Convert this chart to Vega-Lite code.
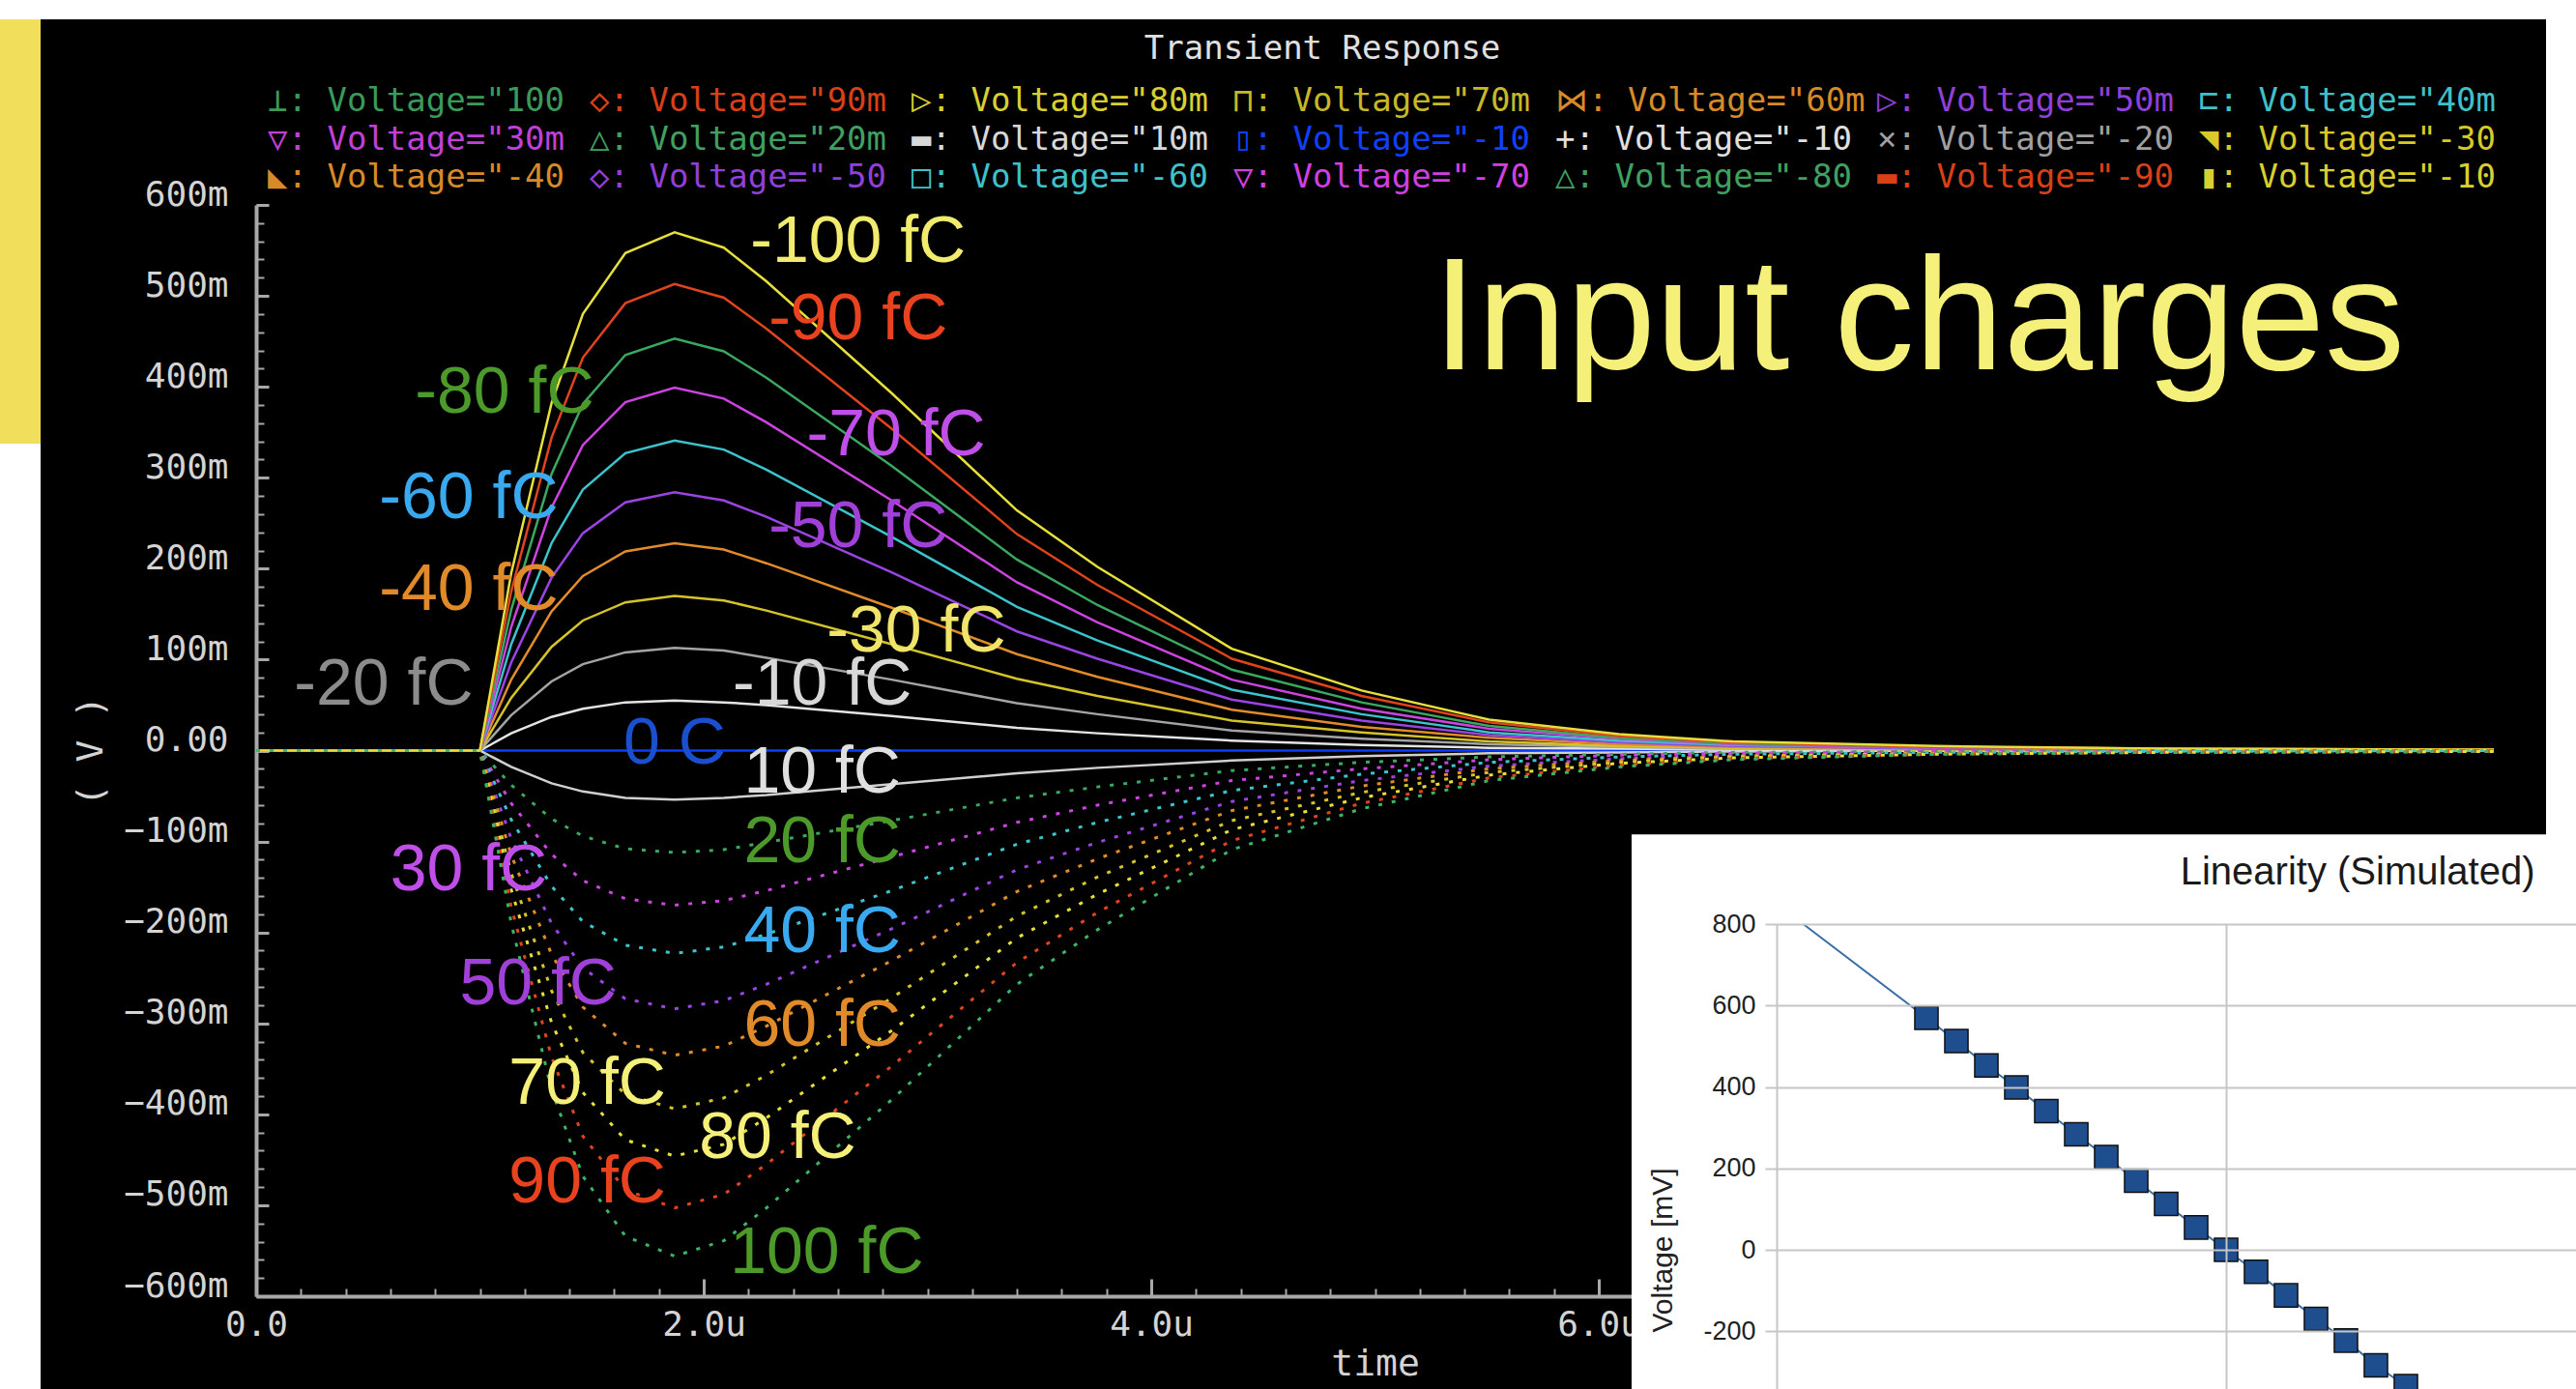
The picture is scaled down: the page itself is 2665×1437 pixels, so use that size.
{
  "$schema": "https://vega.github.io/schema/vega-lite/v6.json",
  "background": "white",
  "padding": {"left": 0, "top": 20, "right": 0, "bottom": 0},
  "spacing": 0,
  "bounds": "flush",
  "config": {"view": {"stroke": null}},
  "datasets": {
    "wave": [
      {"t":0,"n100":0,"n90":0,"n80":0,"n70":0,"n60":0,"n50":0,"n40":0,"n30":0,"n20":0,"n10":0,"z0":0,"p10":0,"p20":0,"p30":0,"p40":0,"p50":0,"p60":0,"p70":0,"p80":0,"p90":0,"p100":0},
      {"t":1.0,"n100":0,"n90":0,"n80":0,"n70":0,"n60":0,"n50":0,"n40":0,"n30":0,"n20":0,"n10":0,"z0":0,"p10":0,"p20":0,"p30":0,"p40":0,"p50":0,"p60":0,"p70":0,"p80":0,"p90":0,"p100":0},
      {"t":1.14,"n100":0.195,"n90":0.175,"n80":0.155,"n70":0.136,"n60":0.117,"n50":0.097,"n40":0.078,"n30":0.058,"n20":0.039,"n10":0.019,"z0":0,"p10":-0.018,"p20":-0.038,"p30":-0.058,"p40":-0.076,"p50":-0.097,"p60":-0.115,"p70":-0.135,"p80":-0.153,"p90":-0.172,"p100":-0.19},
      {"t":1.32,"n100":0.382,"n90":0.344,"n80":0.304,"n70":0.267,"n60":0.228,"n50":0.19,"n40":0.153,"n30":0.114,"n20":0.076,"n10":0.037,"z0":0,"p10":-0.036,"p20":-0.075,"p30":-0.114,"p40":-0.149,"p50":-0.19,"p60":-0.224,"p70":-0.264,"p80":-0.299,"p90":-0.337,"p100":-0.373},
      {"t":1.46,"n100":0.48,"n90":0.432,"n80":0.381,"n70":0.336,"n60":0.287,"n50":0.239,"n40":0.192,"n30":0.143,"n20":0.095,"n10":0.046,"z0":0,"p10":-0.045,"p20":-0.094,"p30":-0.143,"p40":-0.188,"p50":-0.239,"p60":-0.282,"p70":-0.332,"p80":-0.376,"p90":-0.424,"p100":-0.468},
      {"t":1.65,"n100":0.547,"n90":0.492,"n80":0.435,"n70":0.383,"n60":0.327,"n50":0.273,"n40":0.219,"n30":0.163,"n20":0.108,"n10":0.053,"z0":0,"p10":-0.052,"p20":-0.108,"p30":-0.163,"p40":-0.214,"p50":-0.273,"p60":-0.322,"p70":-0.378,"p80":-0.428,"p90":-0.483,"p100":-0.534},
      {"t":1.87,"n100":0.57,"n90":0.513,"n80":0.453,"n70":0.399,"n60":0.341,"n50":0.284,"n40":0.228,"n30":0.17,"n20":0.113,"n10":0.055,"z0":0,"p10":-0.054,"p20":-0.112,"p30":-0.17,"p40":-0.223,"p50":-0.284,"p60":-0.335,"p70":-0.394,"p80":-0.446,"p90":-0.503,"p100":-0.556},
      {"t":2.09,"n100":0.553,"n90":0.498,"n80":0.439,"n70":0.387,"n60":0.331,"n50":0.275,"n40":0.221,"n30":0.165,"n20":0.11,"n10":0.053,"z0":0,"p10":-0.052,"p20":-0.109,"p30":-0.165,"p40":-0.216,"p50":-0.275,"p60":-0.325,"p70":-0.382,"p80":-0.433,"p90":-0.488,"p100":-0.539},
      {"t":2.28,"n100":0.516,"n90":0.464,"n80":0.41,"n70":0.361,"n60":0.309,"n50":0.257,"n40":0.206,"n30":0.154,"n20":0.102,"n10":0.05,"z0":0,"p10":-0.049,"p20":-0.101,"p30":-0.154,"p40":-0.202,"p50":-0.257,"p60":-0.303,"p70":-0.357,"p80":-0.404,"p90":-0.455,"p100":-0.503},
      {"t":2.84,"n100":0.393,"n90":0.354,"n80":0.313,"n70":0.275,"n60":0.235,"n50":0.196,"n40":0.157,"n30":0.117,"n20":0.078,"n10":0.038,"z0":0,"p10":-0.037,"p20":-0.077,"p30":-0.117,"p40":-0.154,"p50":-0.196,"p60":-0.231,"p70":-0.272,"p80":-0.308,"p90":-0.347,"p100":-0.384},
      {"t":3.4,"n100":0.264,"n90":0.238,"n80":0.21,"n70":0.185,"n60":0.158,"n50":0.131,"n40":0.106,"n30":0.079,"n20":0.052,"n10":0.025,"z0":0,"p10":-0.025,"p20":-0.052,"p30":-0.079,"p40":-0.103,"p50":-0.131,"p60":-0.155,"p70":-0.182,"p80":-0.206,"p90":-0.233,"p100":-0.257},
      {"t":3.76,"n100":0.202,"n90":0.182,"n80":0.16,"n70":0.141,"n60":0.121,"n50":0.101,"n40":0.081,"n30":0.06,"n20":0.04,"n10":0.019,"z0":0,"p10":-0.019,"p20":-0.04,"p30":-0.06,"p40":-0.079,"p50":-0.101,"p60":-0.119,"p70":-0.139,"p80":-0.158,"p90":-0.178,"p100":-0.197},
      {"t":4.36,"n100":0.112,"n90":0.101,"n80":0.089,"n70":0.078,"n60":0.067,"n50":0.056,"n40":0.045,"n30":0.033,"n20":0.022,"n10":0.011,"z0":0,"p10":-0.011,"p20":-0.022,"p30":-0.033,"p40":-0.044,"p50":-0.056,"p60":-0.066,"p70":-0.077,"p80":-0.087,"p90":-0.099,"p100":-0.109},
      {"t":4.94,"n100":0.066,"n90":0.06,"n80":0.053,"n70":0.046,"n60":0.04,"n50":0.033,"n40":0.026,"n30":0.02,"n20":0.013,"n10":0.006,"z0":0,"p10":-0.006,"p20":-0.013,"p30":-0.02,"p40":-0.026,"p50":-0.033,"p60":-0.039,"p70":-0.046,"p80":-0.052,"p90":-0.058,"p100":-0.064},
      {"t":5.51,"n100":0.034,"n90":0.031,"n80":0.027,"n70":0.024,"n60":0.02,"n50":0.017,"n40":0.014,"n30":0.01,"n20":0.007,"n10":0.003,"z0":0,"p10":-0.003,"p20":-0.007,"p30":-0.01,"p40":-0.013,"p50":-0.017,"p60":-0.02,"p70":-0.024,"p80":-0.027,"p90":-0.03,"p100":-0.033},
      {"t":6.09,"n100":0.018,"n90":0.016,"n80":0.014,"n70":0.013,"n60":0.011,"n50":0.009,"n40":0.007,"n30":0.005,"n20":0.004,"n10":0.002,"z0":0,"p10":-0.002,"p20":-0.004,"p30":-0.005,"p40":-0.007,"p50":-0.009,"p60":-0.011,"p70":-0.013,"p80":-0.014,"p90":-0.016,"p100":-0.018},
      {"t":6.6,"n100":0.01,"n90":0.009,"n80":0.008,"n70":0.007,"n60":0.006,"n50":0.005,"n40":0.004,"n30":0.003,"n20":0.002,"n10":0.001,"z0":0,"p10":-0.001,"p20":-0.002,"p30":-0.003,"p40":-0.004,"p50":-0.005,"p60":-0.006,"p70":-0.007,"p80":-0.008,"p90":-0.009,"p100":-0.01},
      {"t":7.5,"n100":0.005,"n90":0.004,"n80":0.004,"n70":0.003,"n60":0.003,"n50":0.002,"n40":0.002,"n30":0.001,"n20":0.001,"n10":0,"z0":0,"p10":0,"p20":-0.001,"p30":-0.001,"p40":-0.002,"p50":-0.002,"p60":-0.003,"p70":-0.003,"p80":-0.004,"p90":-0.004,"p100":-0.004},
      {"t":8.5,"n100":0.002,"n90":0.002,"n80":0.002,"n70":0.002,"n60":0.001,"n50":0.001,"n40":0.001,"n30":0.001,"n20":0,"n10":0,"z0":0,"p10":0,"p20":0,"p30":-0.001,"p40":-0.001,"p50":-0.001,"p60":-0.001,"p70":-0.002,"p80":-0.002,"p90":-0.002,"p100":-0.002},
      {"t":10,"n100":0.001,"n90":0.001,"n80":0.001,"n70":0.001,"n60":0.001,"n50":0.001,"n40":0,"n30":0,"n20":0,"n10":0,"z0":0,"p10":0,"p20":0,"p30":0,"p40":0,"p50":-0.001,"p60":-0.001,"p70":-0.001,"p80":-0.001,"p90":-0.001,"p100":-0.001}
    ],
    "labels": [
      {"label":"-100 fC","t":2.69,"v":0.559},
      {"label":"-90 fC","t":2.69,"v":0.474},
      {"label":"-80 fC","t":1.11,"v":0.393},
      {"label":"-70 fC","t":2.86,"v":0.346},
      {"label":"-60 fC","t":0.95,"v":0.277},
      {"label":"-50 fC","t":2.69,"v":0.245},
      {"label":"-40 fC","t":0.95,"v":0.176},
      {"label":"-30 fC","t":2.95,"v":0.13},
      {"label":"-20 fC","t":0.57,"v":0.072},
      {"label":"-10 fC","t":2.53,"v":0.072},
      {"label":"0 C","t":1.87,"v":0.007},
      {"label":"10 fC","t":2.53,"v":-0.025},
      {"label":"20 fC","t":2.53,"v":-0.101},
      {"label":"30 fC","t":0.95,"v":-0.132},
      {"label":"40 fC","t":2.53,"v":-0.2},
      {"label":"50 fC","t":1.26,"v":-0.258},
      {"label":"60 fC","t":2.53,"v":-0.303},
      {"label":"70 fC","t":1.48,"v":-0.367},
      {"label":"80 fC","t":2.33,"v":-0.427},
      {"label":"90 fC","t":1.48,"v":-0.476},
      {"label":"100 fC","t":2.55,"v":-0.553}
    ],
    "legend": [
      {"series":"p100","row":1,"col":1,"text":"⊥: Voltage=\"100"},
      {"series":"p90","row":1,"col":2,"text":"◇: Voltage=\"90m"},
      {"series":"p80","row":1,"col":3,"text":"▷: Voltage=\"80m"},
      {"series":"p70","row":1,"col":4,"text":"⊓: Voltage=\"70m"},
      {"series":"p60","row":1,"col":5,"text":"⋈: Voltage=\"60m"},
      {"series":"p50","row":1,"col":6,"text":"▷: Voltage=\"50m"},
      {"series":"p40","row":1,"col":7,"text":"⊏: Voltage=\"40m"},
      {"series":"p30","row":2,"col":1,"text":"▽: Voltage=\"30m"},
      {"series":"p20","row":2,"col":2,"text":"△: Voltage=\"20m"},
      {"series":"p10","row":2,"col":3,"text":"▬: Voltage=\"10m"},
      {"series":"z0","row":2,"col":4,"text":"▯: Voltage=\"-10"},
      {"series":"n10","row":2,"col":5,"text":"+: Voltage=\"-10"},
      {"series":"n20","row":2,"col":6,"text":"×: Voltage=\"-20"},
      {"series":"n30","row":2,"col":7,"text":"◥: Voltage=\"-30"},
      {"series":"n40","row":3,"col":1,"text":"◣: Voltage=\"-40"},
      {"series":"n50","row":3,"col":2,"text":"◇: Voltage=\"-50"},
      {"series":"n60","row":3,"col":3,"text":"□: Voltage=\"-60"},
      {"series":"n70","row":3,"col":4,"text":"▽: Voltage=\"-70"},
      {"series":"n80","row":3,"col":5,"text":"△: Voltage=\"-80"},
      {"series":"n90","row":3,"col":6,"text":"▬: Voltage=\"-90"},
      {"series":"n100","row":3,"col":7,"text":"▮: Voltage=\"-10"}
    ],
    "inset": [
      {"q":-141,"mV":800,"kind":"fit"},
      {"q":-100,"mV":570,"kind":"sim"},
      {"q":-90,"mV":513,"kind":"sim"},
      {"q":-80,"mV":453,"kind":"sim"},
      {"q":-70,"mV":399,"kind":"sim"},
      {"q":-60,"mV":341,"kind":"sim"},
      {"q":-50,"mV":284,"kind":"sim"},
      {"q":-40,"mV":228,"kind":"sim"},
      {"q":-30,"mV":170,"kind":"sim"},
      {"q":-20,"mV":113,"kind":"sim"},
      {"q":-10,"mV":55,"kind":"sim"},
      {"q":0,"mV":0,"kind":"sim"},
      {"q":10,"mV":-54,"kind":"sim"},
      {"q":20,"mV":-112,"kind":"sim"},
      {"q":30,"mV":-170,"kind":"sim"},
      {"q":40,"mV":-223,"kind":"sim"},
      {"q":50,"mV":-284,"kind":"sim"},
      {"q":60,"mV":-335,"kind":"sim"},
      {"q":70,"mV":-394,"kind":"sim"},
      {"q":80,"mV":-446,"kind":"sim"},
      {"q":90,"mV":-503,"kind":"sim"},
      {"q":100,"mV":-556,"kind":"sim"}
    ]
  },
  "hconcat": [
    {
      "width": 42,
      "height": 439,
      "view": {"fill": "#f1df5c", "stroke": null},
      "data": {"values": [{}]},
      "mark": {"type": "rect", "fill": "#f1df5c"}
    },
    {
      "width": 2592,
      "height": 1417,
      "view": {"fill": "#000000", "stroke": null},
      "resolve": {"scale": {"x": "independent", "y": "independent", "color": "independent"}, "axis": {"x": "independent", "y": "independent"}},
      "layer": [
        {
          "resolve": {"scale": {"color": "independent"}, "axis": {"x": "independent", "y": "independent"}},
          "layer": [
            {
              "data": {"name": "wave"},
              "transform": [{"fold": ["z0","p10","n10","n20","n30","n40","n50","n60","n70","n80","n90","n100"], "as": ["series", "v"]}],
              "mark": {"type": "line", "strokeWidth": 2.5},
              "encoding": {
                "x": {"field": "t", "type": "quantitative",
                  "scale": {"domain": [0, 10], "range": [223, 2538], "nice": false, "zero": false},
                  "axis": {"orient": "bottom", "offset": -96, "values": [0, 2, 4, 6, 8, 10],
                    "labelExpr": "datum.value == 0 ? '0.0' : format(datum.value, '.1f') + 'u'",
                    "grid": false, "tickSize": -18, "tickWidth": 3, "tickColor": "#a8a8a8",
                    "domainColor": "#a8a8a8", "domainWidth": 4,
                    "labelFont": "DejaVu Sans Mono", "labelFontSize": 36, "labelColor": "#d4d4d4",
                    "labelPadding": 47, "labelBaseline": "middle", "labelFlush": false, "labelOverlap": false,
                    "title": "time", "titleFont": "DejaVu Sans Mono", "titleFontSize": 38, "titleFontWeight": "normal",
                    "titleColor": "#d4d4d4", "titlePadding": 4}},
                "y": {"field": "v", "type": "quantitative",
                  "scale": {"domain": [-0.6, 0.6], "range": [1321, 192], "nice": false, "zero": false},
                  "axis": {"orient": "left", "offset": -223,
                    "values": [-0.6, -0.5, -0.4, -0.3, -0.2, -0.1, 0, 0.1, 0.2, 0.3, 0.4, 0.5, 0.6],
                    "labelExpr": "abs(datum.value) < 1e-9 ? '0.00' : format(datum.value * 1000, 'd') + 'm'",
                    "grid": false, "tickSize": -13, "tickWidth": 3, "tickColor": "#a8a8a8",
                    "domainColor": "#a8a8a8", "domainWidth": 4,
                    "labelFont": "DejaVu Sans Mono", "labelFontSize": 36, "labelColor": "#d4d4d4",
                    "labelPadding": 42, "labelOffset": -11, "labelAlign": "right", "labelBaseline": "middle",
                    "labelFlush": false, "labelOverlap": false,
                    "title": "( V )", "titleFont": "DejaVu Sans Mono", "titleFontSize": 38, "titleFontWeight": "normal",
                    "titleColor": "#d4d4d4", "titlePadding": 14}},
                "color": {"field": "series", "type": "nominal", "legend": null,
                  "scale": {"domain": ["n100","n90","n80","n70","n60","n50","n40","n30","n20","n10","z0","p10","p20","p30","p40","p50","p60","p70","p80","p90","p100"],
                    "range": ["#e6df3c","#e0441c","#3aa860","#cc44e0","#3cc4cc","#9a44e4","#e08c2a","#d4c42a","#a4a4a4","#e4e4e4","#0c3cff","#d0d0d0","#3aa860","#cc44e0","#3cc4cc","#9a44e4","#e08c2a","#d4c42a","#e6df3c","#e0441c","#3cb466"]}}
              }
            },
            {
              "data": {"name": "wave"},
              "transform": [{"fold": ["p20","p30","p40","p50","p60","p70","p80","p90","p100"], "as": ["series", "v"]}],
              "mark": {"type": "line", "strokeWidth": 3, "strokeDash": [4, 10]},
              "encoding": {
                "x": {"field": "t", "type": "quantitative",
                  "scale": {"domain": [0, 10], "range": [223, 2538], "nice": false, "zero": false},
                  "axis": {"orient": "bottom", "offset": -96, "tickCount": 50, "grid": false, "tickSize": -8, "tickWidth": 2,
                    "tickColor": "#a8a8a8", "labels": false, "domain": false, "title": null}},
                "y": {"field": "v", "type": "quantitative",
                  "scale": {"domain": [-0.6, 0.6], "range": [1321, 192], "nice": false, "zero": false},
                  "axis": {"orient": "left", "offset": -223, "tickCount": 60, "grid": false, "tickSize": -8, "tickWidth": 2,
                    "tickColor": "#a8a8a8", "labels": false, "domain": false, "title": null}},
                "color": {"field": "series", "type": "nominal", "legend": null,
                  "scale": {"domain": ["n100","n90","n80","n70","n60","n50","n40","n30","n20","n10","z0","p10","p20","p30","p40","p50","p60","p70","p80","p90","p100"],
                    "range": ["#e6df3c","#e0441c","#3aa860","#cc44e0","#3cc4cc","#9a44e4","#e08c2a","#d4c42a","#a4a4a4","#e4e4e4","#0c3cff","#d0d0d0","#3aa860","#cc44e0","#3cc4cc","#9a44e4","#e08c2a","#d4c42a","#e6df3c","#e0441c","#3cb466"]}}
              }
            },
            {
              "data": {"name": "labels"},
              "mark": {"type": "text", "font": "Liberation Sans", "fontSize": 68, "align": "center", "baseline": "middle"},
              "encoding": {
                "x": {"field": "t", "type": "quantitative", "axis": null},
                "y": {"field": "v", "type": "quantitative", "axis": null},
                "text": {"field": "label"},
                "color": {"field": "label", "type": "nominal", "legend": null,
                  "scale": {"domain": ["-100 fC","-90 fC","-80 fC","-70 fC","-60 fC","-50 fC","-40 fC","-30 fC","-20 fC","-10 fC","0 C","10 fC","20 fC","30 fC","40 fC","50 fC","60 fC","70 fC","80 fC","90 fC","100 fC"],
                    "range": ["#f2ec6e","#e8421e","#4c9a2a","#c04ee8","#3aaaf0","#a040d8","#e08a2a","#f0e46a","#8c8c8c","#d8d8d8","#1a4fd0","#e0e0e0","#4c9a2a","#c04ee8","#3aaaf0","#a040d8","#e08a2a","#f4f07a","#f4f07a","#e8421e","#4c9a2a"]}}
              }
            },
            {
              "data": {"values": [{}]},
              "mark": {"type": "text", "text": "Input charges", "font": "Liberation Sans", "fontSize": 166, "fill": "#f5f07a", "align": "center", "baseline": "alphabetic"},
              "encoding": {
                "x": {"datum": 7.43, "type": "quantitative", "axis": null},
                "y": {"datum": 0.419, "type": "quantitative", "axis": null}
              }
            },
            {
              "data": {"values": [{}]},
              "mark": {"type": "text", "text": "Transient Response", "font": "DejaVu Sans Mono", "fontSize": 34, "fill": "#e0e0e0", "align": "center", "baseline": "middle"},
              "encoding": {
                "x": {"datum": 4.765, "type": "quantitative", "axis": null},
                "y": {"datum": 0.771, "type": "quantitative", "axis": null}
              }
            }
          ]
        },
        {
          "data": {"name": "legend"},
          "mark": {"type": "text", "font": "DejaVu Sans Mono", "fontSize": 34, "align": "left", "baseline": "middle"},
          "encoding": {
            "x": {"field": "col", "type": "quantitative", "axis": null,
              "scale": {"domain": [1, 7], "range": [235, 2233], "nice": false, "zero": false}},
            "y": {"field": "row", "type": "quantitative", "axis": null,
              "scale": {"domain": [1, 3], "range": [85, 164], "nice": false, "zero": false}},
            "text": {"field": "text"},
            "color": {"field": "series", "type": "nominal", "legend": null,
              "scale": {"domain": ["n100","n90","n80","n70","n60","n50","n40","n30","n20","n10","z0","p10","p20","p30","p40","p50","p60","p70","p80","p90","p100"],
                "range": ["#d8d030","#d84018","#40a060","#d040e0","#40c0c8","#9040d8","#d88a28","#d8c828","#a0a0a0","#e0e0e0","#1040ff","#d8d8d8","#40a060","#c040d8","#40c0c8","#9040d8","#d88a28","#c8b828","#d8d030","#d84018","#3a9a5a"]}}
          }
        },
        {
          "layer": [
            {
              "data": {"values": [{}]},
              "mark": {"type": "rect", "fill": "#ffffff"},
              "encoding": {
                "x": {"datum": -198.4, "type": "quantitative", "scale": {"domain": [-150, 150], "range": [1796, 2726], "nice": false, "zero": false},
                  "axis": {"orient": "top", "values": [-150, 0, 150], "grid": true, "gridColor": "#c6c6c6", "gridWidth": 2,
                    "ticks": false, "labels": false, "domain": false, "title": null, "zindex": 1}},
                "x2": {"datum": 260},
                "y": {"datum": 1021, "type": "quantitative", "scale": {"domain": [-800, 800], "range": [1609.8, 936.2], "nice": false, "zero": false},
                  "axis": {"orient": "left", "offset": -1796, "values": [-200, 0, 200, 400, 600, 800],
                    "labelExpr": "'' + datum.value",
                    "grid": true, "gridColor": "#c6c6c6", "gridWidth": 2, "tickSize": 12, "tickColor": "#c6c6c6", "tickWidth": 2,
                    "domain": false, "labelFont": "Liberation Sans", "labelFontSize": 27, "labelColor": "#222222", "labelPadding": 10,
                    "labelFlush": false, "labelOverlap": false,
                    "title": "Voltage [mV]", "titleFont": "Liberation Sans", "titleFontSize": 30, "titleFontWeight": "normal",
                    "titleColor": "#222222", "titlePadding": 26, "zindex": 1}},
                "y2": {"datum": -1000}
              }
            },
            {
              "data": {"name": "inset"},
              "mark": {"type": "line", "stroke": "#3a6ea8", "strokeWidth": 2},
              "encoding": {
                "x": {"field": "q", "type": "quantitative"},
                "y": {"field": "mV", "type": "quantitative"}
              }
            },
            {
              "data": {"name": "inset"},
              "transform": [{"filter": "datum.kind == 'sim'"}],
              "mark": {"type": "square", "size": 580, "fill": "#1f4e8e", "stroke": "#101010", "strokeWidth": 1.5, "opacity": 1},
              "encoding": {
                "x": {"field": "q", "type": "quantitative"},
                "y": {"field": "mV", "type": "quantitative"}
              }
            },
            {
              "data": {"values": [{}]},
              "mark": {"type": "text", "text": "Linearity (Simulated)", "font": "Liberation Sans", "fontSize": 40, "fill": "#1a1a1a", "align": "center", "baseline": "middle"},
              "encoding": {
                "x": {"datum": 43.9, "type": "quantitative"},
                "y": {"datum": 926, "type": "quantitative"}
              }
            }
          ]
        }
      ]
    }
  ]
}
